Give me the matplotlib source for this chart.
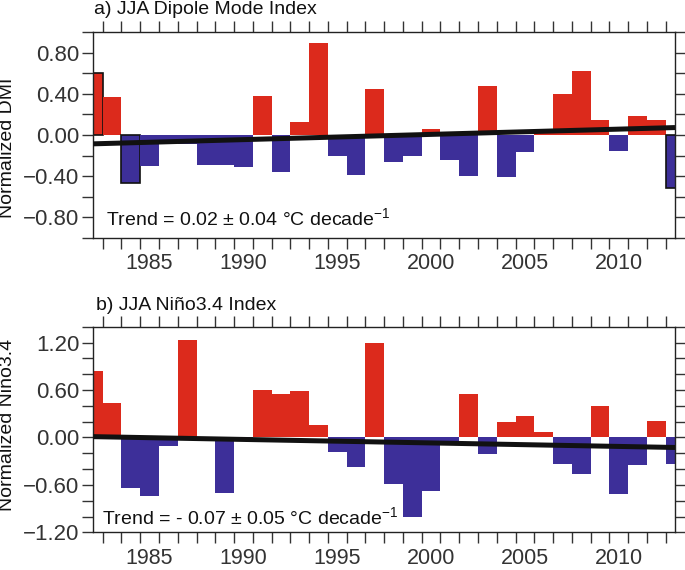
import numpy as np
import matplotlib
matplotlib.use("Agg")
from matplotlib import pyplot as plt
from matplotlib.ticker import MultipleLocator, FixedLocator, FuncFormatter

plt.rcParams['font.family'] = ['Liberation Sans', 'DejaVu Sans']
plt.rcParams['mathtext.fontset'] = 'custom'
plt.rcParams['mathtext.rm'] = 'Liberation Sans'

# data
years = np.arange(1982, 2014)
dmi = [0.60, 0.37, -0.47, -0.30, -0.07, -0.09, -0.29, -0.29, -0.31, 0.38,
       -0.36, 0.13, 0.89, -0.20, -0.39, 0.45, -0.265, -0.20, 0.055, -0.245,
       -0.40, 0.48, -0.41, -0.17, 0.03, 0.40, 0.62, 0.145, -0.16, 0.18,
       0.15, -0.51]
nino = [0.84, 0.44, -0.64, -0.74, -0.11, 1.23, -0.02, -0.70, -0.02, 0.60,
        0.55, 0.59, 0.16, -0.19, -0.37, 1.20, -0.59, -1.00, -0.68, -0.05,
        0.55, -0.21, 0.20, 0.27, 0.07, -0.33, -0.46, 0.40, -0.71, -0.35,
        0.21, -0.33]
dmi_outlined = [1982, 1984, 2013]
trend_years = [1982, 2013]
dmi_trend = [-0.086, 0.072]
nino_trend = [0.01, -0.127]
year_labels = [1985, 1990, 1995, 2000, 2005, 2010]
dmi_ticks = [-0.8, -0.4, 0.0, 0.4, 0.8]
nino_ticks = [-1.2, -0.6, 0.0, 0.6, 1.2]

red = '#dc2a1c'
blue = '#3d2f99'
tickcol = '#333333'

fig = plt.figure(figsize=(6.85, 5.7), dpi=100)
ax1 = fig.add_axes([0.1362, 0.5825, 0.8492, 0.3614])
ax2 = fig.add_axes([0.1362, 0.0661, 0.8492, 0.3607])


def fmt(v, pos):
    s = '%.2f' % abs(v)
    return ('\u2212' + s) if v < -1e-9 else s


def draw_panel(ax, vals, trend, ylim, yt, outlined=()):
    vals = np.array(vals)
    cols = [red if v > 0 else blue for v in vals]
    bars = ax.bar(years, vals, width=1.0, color=cols, linewidth=0, zorder=2)
    for b, y in zip(bars, years):
        if y in outlined:
            b.set_edgecolor('#111111')
            b.set_linewidth(1.2)
    ax.plot(trend_years, trend, color='#111111', lw=3.6, zorder=3,
            solid_capstyle='butt')
    ax.set_xlim(1982, 2013)
    ax.set_ylim(*ylim)
    # x: labels at year centres, tick marks at bar edges
    ax.xaxis.set_major_locator(FixedLocator(year_labels))
    ax.xaxis.set_minor_locator(FixedLocator(np.arange(1982.5, 2013, 1.0)))
    ax.tick_params(axis='x', which='major', length=0, pad=11,
                   labelsize=15.5, labelcolor=tickcol)
    ax.tick_params(axis='x', which='minor', length=8, width=1.0,
                   direction='out', top=True, bottom=True, color=tickcol)
    ax.yaxis.set_major_locator(FixedLocator(yt))
    ax.yaxis.set_minor_locator(MultipleLocator(0.2))
    ax.yaxis.set_major_formatter(FuncFormatter(fmt))
    ax.tick_params(axis='y', which='both', length=8, width=1.0,
                   direction='out', left=True, right=True, color=tickcol,
                   labelsize=16, labelcolor=tickcol, pad=2)
    for s in ax.spines.values():
        s.set_color('#222222')
        s.set_linewidth(1.0)


draw_panel(ax1, dmi, dmi_trend, (-1.0, 1.0), dmi_ticks, dmi_outlined)
draw_panel(ax2, nino, nino_trend, (-1.2, 1.4), nino_ticks)

fig.text(94 / 685, 1 - 14.5 / 570, 'a) JJA Dipole Mode Index',
         fontsize=14, va='baseline', ha='left', color='#111111')
fig.text(96.5 / 685, 1 - 309.5 / 570, 'b) JJA Niño3.4 Index',
         fontsize=14, va='baseline', ha='left', color='#111111')

fig.text(8 / 685, 1 - 147.5 / 570, 'Normalized DMI', rotation=90,
         fontsize=14, va='center', ha='center', color='#111111')
fig.text(8 / 685, 1 - 424.5 / 570, 'Normalized Niño3.4', rotation=90,
         fontsize=14, va='center', ha='center', color='#111111')

fig.text(106 / 685, 1 - 226.5 / 570,
         'Trend = 0.02 ± 0.04 °C decade$^{-1}$',
         fontsize=14, va='baseline', ha='left', color='#111111')
fig.text(101.5 / 685, 1 - 525 / 570,
         'Trend = - 0.07 ± 0.05 °C decade$^{-1}$',
         fontsize=14, va='baseline', ha='left', color='#111111')

fig.savefig('out.png', dpi=100)
